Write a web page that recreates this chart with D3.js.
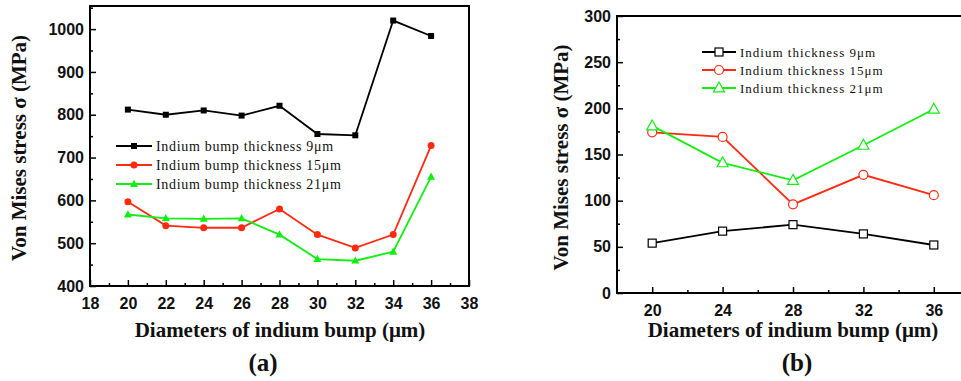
<!DOCTYPE html>
<html>
<head>
<meta charset="utf-8">
<script src="https://cdn.jsdelivr.net/npm/d3@7"></script>
<style>
  body { margin: 0; background: #fff; }
  svg { display: block; }
  .tick text { font-family: "Liberation Sans", Arial, sans-serif; font-weight: bold; font-size: 16px; fill: #111; }
</style>
</head>
<body>
<svg id="chart" width="961" height="381"></svg>
<script>
// panel (a) data
const diamA = [20, 22, 24, 26, 28, 30, 32, 34, 36];
const stressA9 = [812, 800, 810, 798, 821, 755, 752, 1020, 984];
const stressA15 = [597, 541, 536, 536, 580, 520, 489, 520, 728];
const stressA21 = [567, 558, 557, 558, 520, 463, 459, 480, 655];
const xTicksA = [18, 20, 22, 24, 26, 28, 30, 32, 34, 36, 38];
const yTicksA = [400, 500, 600, 700, 800, 900, 1000];
const labelsA = ["Indium bump thickness 9\u03bcm", "Indium bump thickness 15\u03bcm", "Indium bump thickness 21\u03bcm"];

// panel (b) data
const diamB = [20, 24, 28, 32, 36];
const stressB9 = [54, 67, 74, 64, 52];
const stressB15 = [174, 169, 96, 128, 106];
const stressB21 = [181, 141, 122, 160, 199];
const xTicksB = [20, 24, 28, 32, 36];
const yTicksB = [0, 50, 100, 150, 200, 250, 300];
const labelsB = ["Indium thickness 9\u03bcm", "Indium thickness 15\u03bcm", "Indium thickness 21\u03bcm"];

const colors = ["#000000", "#ff2a10", "#11ee11"];
const shapes = ["square", "circle", "triangle"];
const serif = "'Liberation Serif', 'Times New Roman', serif";

const svg = d3.select("#chart");

function marker(g, shape, color, open, size) {
  const fill = open ? "#fff" : color;
  const sw = open ? 1.2 : 0;
  if (shape === "square") {
    g.append("rect").attr("x", -size / 2).attr("y", -size / 2)
      .attr("width", size).attr("height", size)
      .attr("fill", fill).attr("stroke", color).attr("stroke-width", sw);
  } else if (shape === "circle") {
    g.append("circle").attr("r", size / 2)
      .attr("fill", fill).attr("stroke", color).attr("stroke-width", sw);
  } else {
    const h = size * 0.9;
    g.append("path")
      .attr("d", `M0,${-h * 0.6}L${size / 2},${h * 0.4}L${-size / 2},${h * 0.4}Z`)
      .attr("fill", fill).attr("stroke", color).attr("stroke-width", sw);
  }
}

function panel(cfg) {
  const g = svg.append("g");
  const x = d3.scaleLinear().domain(cfg.xDomain).range([cfg.left, cfg.right]);
  const y = d3.scaleLinear().domain(cfg.yDomain).range([cfg.bottom, cfg.top]);

  // minor ticks
  g.append("g").attr("transform", `translate(0,${cfg.bottom})`)
    .call(d3.axisBottom(x).tickValues(cfg.xMinor).tickSize(-3).tickFormat(""))
    .call(a => a.select(".domain").remove())
    .selectAll("line").attr("stroke", "#000").attr("stroke-width", 1.5);
  g.append("g").attr("transform", `translate(${cfg.left},0)`)
    .call(d3.axisLeft(y).tickValues(cfg.yMinor).tickSize(-3).tickFormat(""))
    .call(a => a.select(".domain").remove())
    .selectAll("line").attr("stroke", "#000").attr("stroke-width", 1.5);

  // major ticks
  const xa = g.append("g").attr("transform", `translate(0,${cfg.bottom})`)
    .call(d3.axisBottom(x).tickValues(cfg.xTicks).tickSize(-6).tickPadding(12).tickFormat(d3.format("d")));
  xa.select(".domain").remove();
  xa.selectAll("line").attr("stroke", "#000").attr("stroke-width", 1.5);
  const ya = g.append("g").attr("transform", `translate(${cfg.left},0)`)
    .call(d3.axisLeft(y).tickValues(cfg.yTicks).tickSize(-6).tickPadding(6).tickFormat(d3.format("d")));
  ya.select(".domain").remove();
  ya.selectAll("line").attr("stroke", "#000").attr("stroke-width", 1.5);

  // frame
  g.append("rect")
    .attr("x", cfg.left).attr("y", cfg.top)
    .attr("width", cfg.right - cfg.left).attr("height", cfg.bottom - cfg.top)
    .attr("fill", "none").attr("stroke", "#000").attr("stroke-width", 2);

  // series
  const line = d3.line().x(d => x(d[0])).y(d => y(d[1]));
  cfg.series.forEach((vals, i) => {
    const pts = cfg.xs.map((d, j) => [d, vals[j]]);
    g.append("path").datum(pts).attr("d", line)
      .attr("fill", "none").attr("stroke", colors[i]).attr("stroke-width", 1.8);
    pts.forEach(p => {
      const m = g.append("g").attr("transform", `translate(${x(p[0])},${y(p[1])})`);
      marker(m, shapes[i], colors[i], cfg.open, cfg.msize[i]);
    });
  });

  // legend
  cfg.labels.forEach((lab, i) => {
    const ly = cfg.legY + i * cfg.legDy;
    g.append("line").attr("x1", cfg.legX).attr("x2", cfg.legX + cfg.legLen)
      .attr("y1", ly).attr("y2", ly)
      .attr("stroke", colors[i]).attr("stroke-width", 2);
    const m = g.append("g").attr("transform", `translate(${cfg.legX + cfg.legLen / 2},${ly})`);
    marker(m, shapes[i], colors[i], cfg.open, cfg.msize[i]);
    g.append("text").attr("x", cfg.legX + cfg.legLen + 4).attr("y", ly + 5)
      .attr("font-family", serif)
      .attr("font-size", cfg.legFont).attr("letter-spacing", cfg.legSpace)
      .attr("fill", "#111").text(lab);
  });

  // titles
  g.append("text")
    .attr("transform", `translate(${cfg.yTitleX},${(cfg.top + cfg.bottom) / 2 + cfg.yTitleShift}) rotate(-90)`)
    .attr("text-anchor", "middle")
    .attr("font-family", serif)
    .attr("font-weight", "bold").attr("font-size", 21).attr("fill", "#111")
    .text("Von Mises stress \u03c3 (MPa)");
  g.append("text").attr("x", cfg.xTitleX).attr("y", 337)
    .attr("text-anchor", "middle")
    .attr("font-family", serif)
    .attr("font-weight", "bold").attr("font-size", 21).attr("fill", "#111")
    .text("Diameters of indium bump (\u03bcm)");
  g.append("text").attr("x", cfg.capX).attr("y", 371)
    .attr("text-anchor", "middle")
    .attr("font-family", serif)
    .attr("font-weight", "bold").attr("font-size", 25).attr("fill", "#111")
    .text(cfg.caption);
}

panel({
  xDomain: [18, 38], yDomain: [400, 1054],
  left: 90, right: 469, top: 6, bottom: 286,
  xTicks: xTicksA, yTicks: yTicksA,
  xMinor: d3.range(19, 38, 2), yMinor: d3.range(450, 1051, 100),
  xs: diamA, series: [stressA9, stressA15, stressA21],
  open: false, msize: [6, 7, 8],
  labels: labelsA, legX: 116, legY: 146, legDy: 19, legLen: 36,
  legFont: 14, legSpace: 0.7,
  yTitleX: 26, yTitleShift: 2, xTitleX: 280, capX: 263, caption: "(a)"
});

panel({
  xDomain: [18, 38], yDomain: [0, 300],
  left: 617, right: 969, top: 16, bottom: 293,
  xTicks: xTicksB, yTicks: yTicksB,
  xMinor: [22, 26, 30, 34], yMinor: d3.range(25, 300, 50),
  xs: diamB, series: [stressB9, stressB15, stressB21],
  open: true, msize: [8, 9, 11],
  labels: labelsB, legX: 702, legY: 52, legDy: 18, legLen: 34,
  legFont: 13, legSpace: 1,
  yTitleX: 568, yTitleShift: 3, xTitleX: 793, capX: 797, caption: "(b)"
});
</script>
</body>
</html>
